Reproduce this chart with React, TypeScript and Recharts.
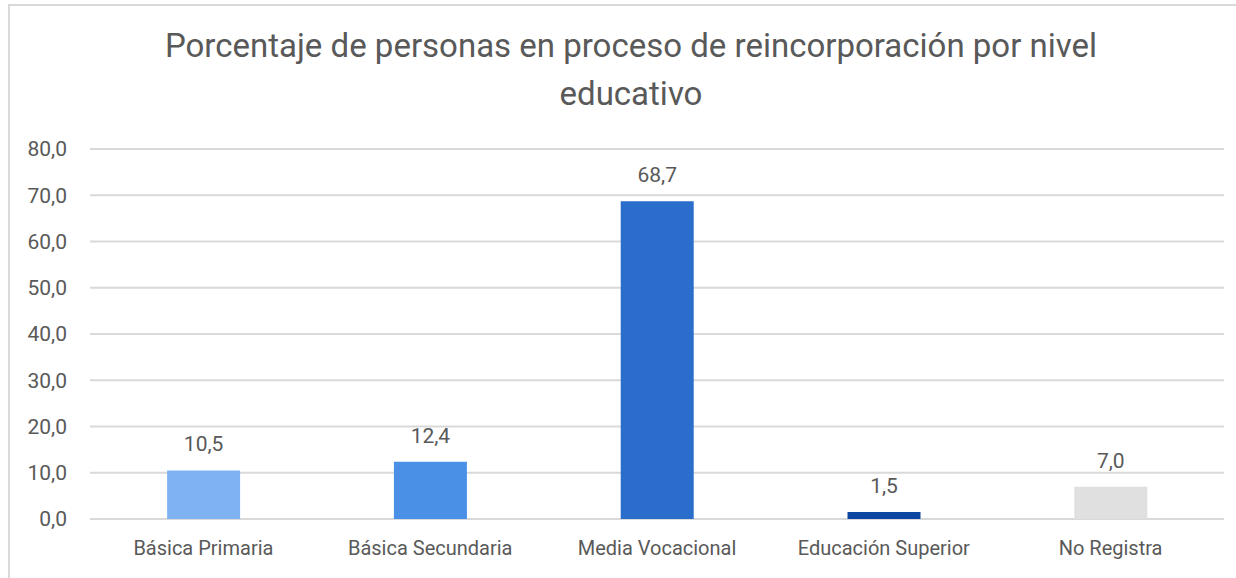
import React from "react";
import { BarChart, Bar, XAxis, YAxis, CartesianGrid, LabelList, Cell } from "recharts";

const titleLines = ["Porcentaje de personas en proceso de reincorporación por nivel", "educativo"];
const categories = ["Básica Primaria", "Básica Secundaria", "Media Vocacional", "Educación Superior", "No Registra"];
const values = [10.5, 12.4, 68.7, 1.5, 7.0];
const colors = ["#7FB2F0", "#4A90E6", "#2A6DCB", "#0E47A1", "#E0E0E0"];
const yTicks = [0, 10, 20, 30, 40, 50, 60, 70, 80];

const data = categories.map((c, i) => ({ name: c, value: values[i] }));
const fmt = (v: number) => v.toFixed(1).replace(".", ",");
const FONT = "Roboto, 'Noto Sans', sans-serif";
const TXT = "#595959";

export default function App() {
  return (
    <div style={{ position: "absolute", left: 0, top: 0, width: 1236, height: 578, background: "#fff", overflow: "hidden", fontFamily: FONT }}>
      <div style={{ position: "absolute", left: 8, top: 4, width: 1240, height: 590, border: "2px solid #d9d9d9", boxSizing: "border-box" }} />
      <div style={{ position: "absolute", left: 0, top: 22, width: 1262, textAlign: "center", color: TXT, fontSize: 33, lineHeight: "48px" }}>
        {titleLines.map((l, i) => (
          <div key={i}>{l}</div>
        ))}
      </div>
      <div style={{ position: "absolute", left: 0, top: 0 }}>
        <BarChart width={1236} height={578} data={data} margin={{ top: 149, right: 12, bottom: 19, left: 0 }} barCategoryGap="34%">
          <CartesianGrid horizontal vertical={false} stroke="#d9d9d9" strokeWidth={2} />
          <XAxis dataKey="name" axisLine={false} tickLine={false} tickSize={0} tickMargin={22} height={40} interval={0}
            tick={{ fill: TXT, fontSize: 20, fontFamily: FONT }} />
          <YAxis domain={[0, 80]} ticks={yTicks} axisLine={false} tickLine={false} tickSize={0} tickMargin={23} width={90}
            tickFormatter={fmt} tick={{ fill: TXT, fontSize: 21, fontFamily: FONT }} />
          <Bar dataKey="value" isAnimationActive={false}>
            {data.map((d, i) => (
              <Cell key={i} fill={colors[i]} />
            ))}
            <LabelList dataKey="value" position="top" offset={19} formatter={(v: any) => fmt(Number(v))}
              style={{ fill: TXT, fontSize: 21, fontFamily: FONT }} />
          </Bar>
        </BarChart>
      </div>
    </div>
  );
}
